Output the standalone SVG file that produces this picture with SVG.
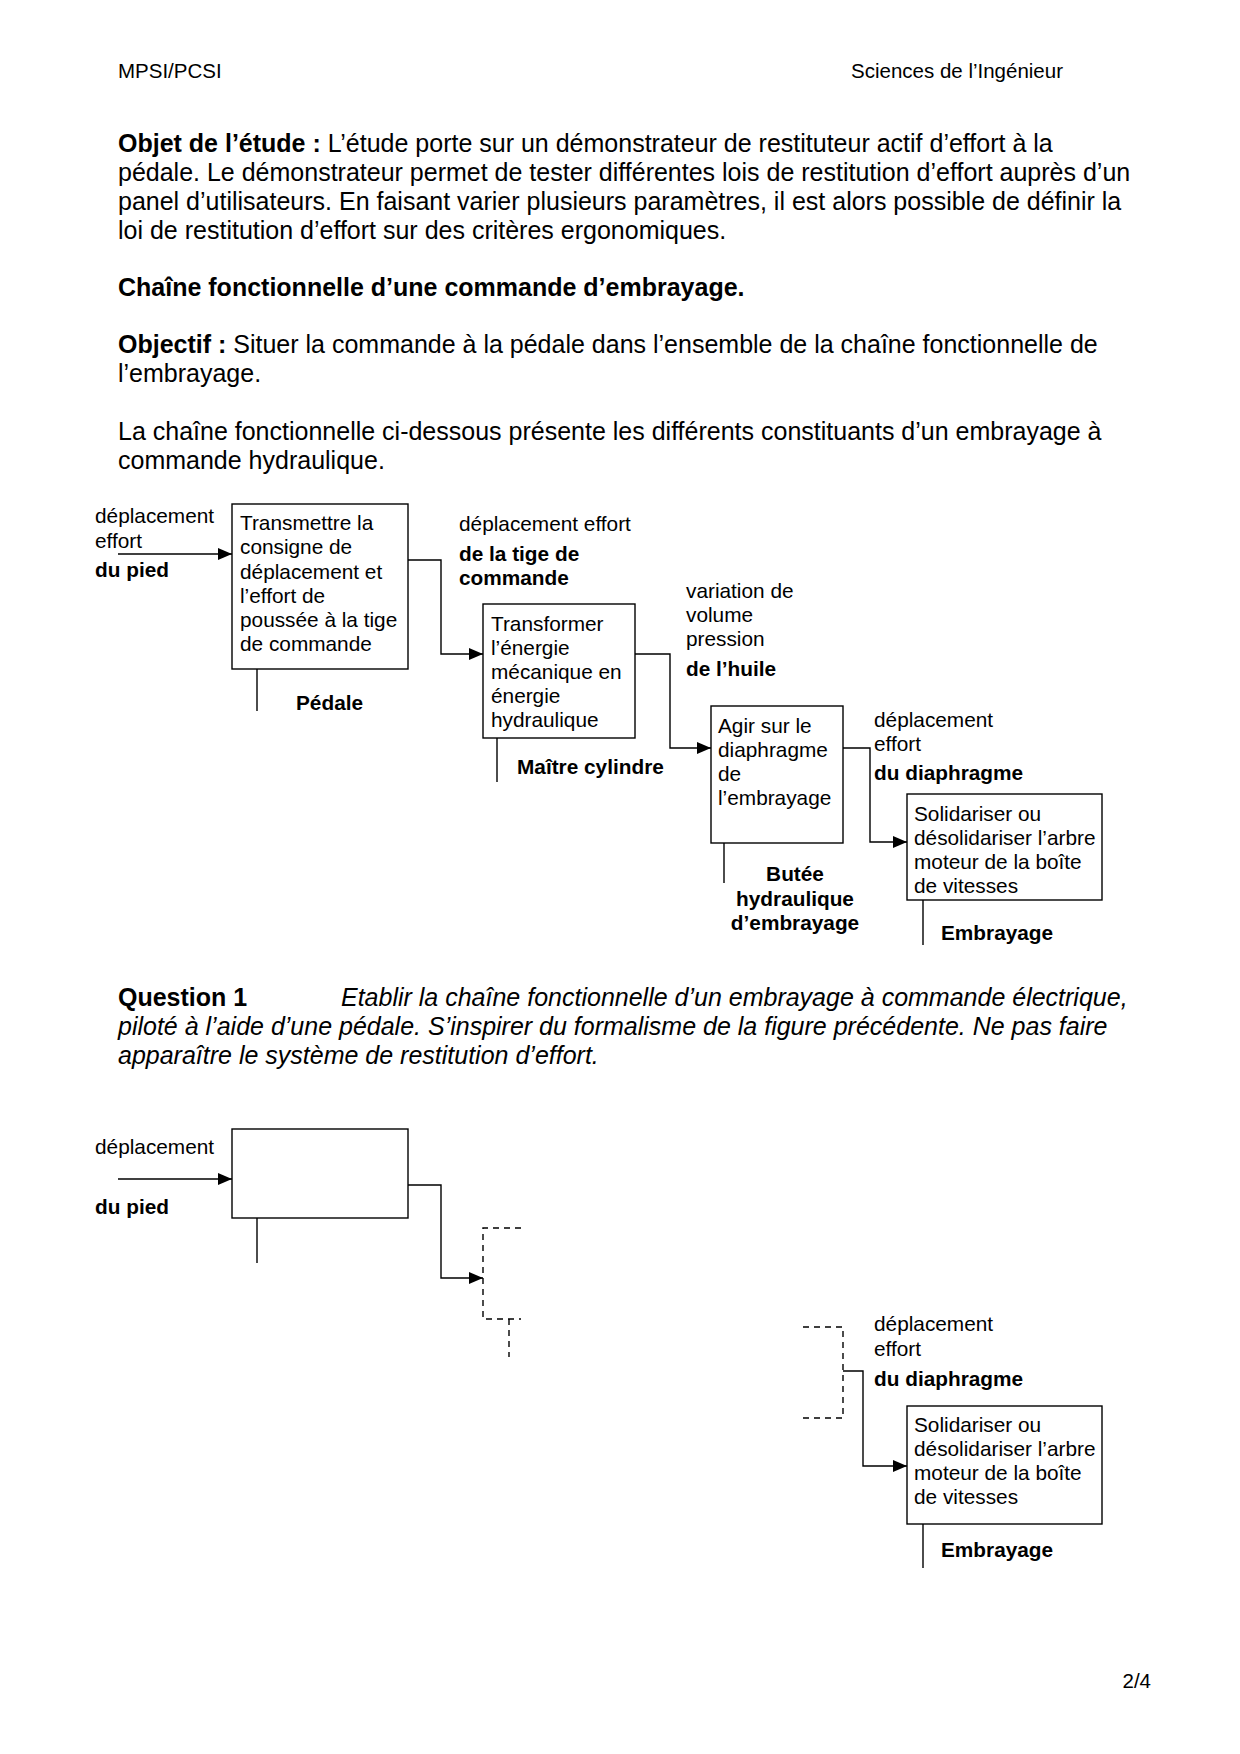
<svg xmlns="http://www.w3.org/2000/svg" width="1240" height="1754" viewBox="0 0 1240 1754">
<style>
text{font-family:"Liberation Sans",Arial,Helvetica,sans-serif;fill:#000}
.p{font-size:25px}
.h{font-size:20.5px}
.d{font-size:20.8px}
.b{font-weight:bold}
.i{font-style:italic}
.box{fill:#fff;stroke:#000;stroke-width:1.4}
.ln{fill:none;stroke:#000;stroke-width:1.4}
.ds{fill:none;stroke:#000;stroke-width:1.4;stroke-dasharray:6 5}
</style>
<defs>
<marker id="ah" markerUnits="userSpaceOnUse" markerWidth="14" markerHeight="12" refX="14" refY="6" orient="auto">
<path d="M0,0 L14,6 L0,12 z" fill="#000"/>
</marker>
</defs>
<rect width="1240" height="1754" fill="#fff"/>

<g id="header">
<text class="h" x="118" y="78">MPSI/PCSI</text>
<text class="h" x="1063" y="78" text-anchor="end">Sciences de l’Ingénieur</text>
<text class="h" x="1151" y="1688" text-anchor="end">2/4</text>
</g>

<g id="intro">
<text class="p" x="118" y="151.5"><tspan class="b">Objet de l’étude :</tspan> L’étude porte sur un démonstrateur de restituteur actif d’effort à la</text>
<text class="p" x="118" y="180.5">pédale. Le démonstrateur permet de tester différentes lois de restitution d’effort auprès d’un</text>
<text class="p" x="118" y="209.5">panel d’utilisateurs. En faisant varier plusieurs paramètres, il est alors possible de définir la</text>
<text class="p" x="118" y="238.5">loi de restitution d’effort sur des critères ergonomiques.</text>
<text class="p b" x="118" y="295.5">Chaîne fonctionnelle d’une commande d’embrayage.</text>
<text class="p" x="118" y="352.5"><tspan class="b">Objectif :</tspan> Situer la commande à la pédale dans l’ensemble de la chaîne fonctionnelle de</text>
<text class="p" x="118" y="381.5">l’embrayage.</text>
<text class="p" x="118" y="439.5">La chaîne fonctionnelle ci-dessous présente les différents constituants d’un embrayage à</text>
<text class="p" x="118" y="468.5">commande hydraulique.</text>
</g>

<g id="question">
<text class="p b" x="118" y="1005.5">Question 1</text>
<text class="p i" x="341" y="1005.5">Etablir la chaîne fonctionnelle d’un embrayage à commande électrique,</text>
<text class="p i" x="118" y="1035">piloté à l’aide d’une pédale. S’inspirer du formalisme de la figure précédente. Ne pas faire</text>
<text class="p i" x="118" y="1063.5">apparaître le système de restitution d’effort.</text>
</g>

<g id="connectors">
<path class="ln" d="M118,554 H232" marker-end="url(#ah)"/>
<path class="ln" d="M408,560 H441 V654 H483" marker-end="url(#ah)"/>
<path class="ln" d="M635,654 H670 V748 H711" marker-end="url(#ah)"/>
<path class="ln" d="M843,748 H870 V842 H907" marker-end="url(#ah)"/>
<path class="ln" d="M257,669 V711"/>
<path class="ln" d="M497,738 V782"/>
<path class="ln" d="M724,843 V883"/>
<path class="ln" d="M923,900 V945"/>
<path class="ln" d="M118,1179 H232" marker-end="url(#ah)"/>
<path class="ln" d="M408,1185 H441 V1278 H483" marker-end="url(#ah)"/>
<path class="ln" d="M257,1218 V1263"/>
<path class="ds" d="M521,1228 H483 V1319 H521"/>
<path class="ds" d="M509,1319 V1357"/>
<path class="ds" d="M803,1327 H843 V1418 H800"/>
<path class="ln" d="M843,1371 H863 V1466 H907" marker-end="url(#ah)"/>
<path class="ln" d="M923,1524 V1568"/>
</g>

<g id="flow-labels">
<text class="d" x="95" y="523">déplacement</text>
<text class="d" x="95" y="548">effort</text>
<text class="d b" x="95" y="577">du pied</text>
<text class="d" x="459" y="531">déplacement effort</text>
<text class="d b" x="459" y="561">de la tige de</text>
<text class="d b" x="459" y="585">commande</text>
<text class="d" x="686" y="598">variation de</text>
<text class="d" x="686" y="622">volume</text>
<text class="d" x="686" y="646">pression</text>
<text class="d b" x="686" y="676">de l’huile</text>
<text class="d" x="874" y="727">déplacement</text>
<text class="d" x="874" y="751">effort</text>
<text class="d b" x="874" y="780">du diaphragme</text>
<text class="d" x="95" y="1154">déplacement</text>
<text class="d b" x="95" y="1214">du pied</text>
<text class="d" x="874" y="1331">déplacement</text>
<text class="d" x="874" y="1356">effort</text>
<text class="d b" x="874" y="1386">du diaphragme</text>
</g>

<g id="node-pedale">
<rect class="box" x="232" y="504" width="176" height="165"/>
<text class="d" x="240" y="530">Transmettre la</text>
<text class="d" x="240" y="554">consigne de</text>
<text class="d" x="240" y="578.5">déplacement et</text>
<text class="d" x="240" y="602.5">l’effort de</text>
<text class="d" x="240" y="627">poussée à la tige</text>
<text class="d" x="240" y="651">de commande</text>
<text class="d b" x="296" y="710">Pédale</text>
</g>

<g id="node-maitre-cylindre">
<rect class="box" x="483" y="604" width="152" height="134"/>
<text class="d" x="491" y="630.5">Transformer</text>
<text class="d" x="491" y="654.5">l’énergie</text>
<text class="d" x="491" y="678.5">mécanique en</text>
<text class="d" x="491" y="702.5">énergie</text>
<text class="d" x="491" y="726.5">hydraulique</text>
<text class="d b" x="517" y="774">Maître cylindre</text>
</g>

<g id="node-butee">
<rect class="box" x="711" y="706" width="132" height="137"/>
<text class="d" x="718" y="733">Agir sur le</text>
<text class="d" x="718" y="757">diaphragme</text>
<text class="d" x="718" y="781">de</text>
<text class="d" x="718" y="805">l’embrayage</text>
<text class="d b" x="795" y="881" text-anchor="middle">Butée</text>
<text class="d b" x="795" y="905.5" text-anchor="middle">hydraulique</text>
<text class="d b" x="795" y="930" text-anchor="middle">d’embrayage</text>
</g>

<g id="node-embrayage">
<rect class="box" x="907" y="794" width="195" height="106"/>
<text class="d" x="914" y="821">Solidariser ou</text>
<text class="d" x="914" y="845">désolidariser l’arbre</text>
<text class="d" x="914" y="869">moteur de la boîte</text>
<text class="d" x="914" y="893">de vitesses</text>
<text class="d b" x="941" y="940">Embrayage</text>
</g>

<g id="node-q-first">
<rect class="box" x="232" y="1129" width="176" height="89"/>
</g>

<g id="node-q-embrayage">
<rect class="box" x="907" y="1406" width="195" height="118"/>
<text class="d" x="914" y="1432">Solidariser ou</text>
<text class="d" x="914" y="1456">désolidariser l’arbre</text>
<text class="d" x="914" y="1480">moteur de la boîte</text>
<text class="d" x="914" y="1504">de vitesses</text>
<text class="d b" x="941" y="1557">Embrayage</text>
</g>
</svg>
